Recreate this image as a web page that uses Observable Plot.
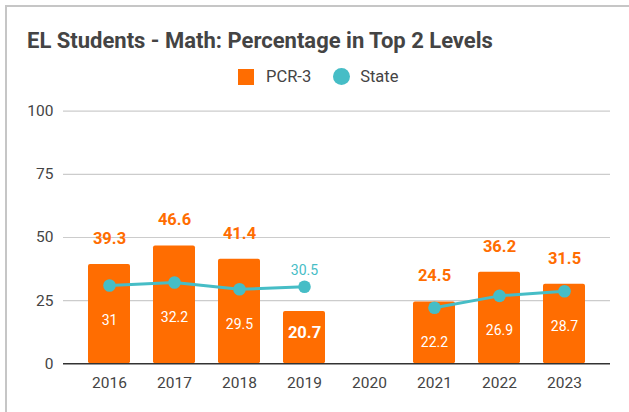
<!DOCTYPE html>
<html>
<head>
<meta charset="utf-8">
<script src="https://cdn.jsdelivr.net/npm/d3@7"></script>
<script src="https://cdn.jsdelivr.net/npm/@observablehq/plot@0.6"></script>
<style>
  html, body { margin: 0; padding: 0; background: #fff; }
  #wrap { position: relative; width: 629px; height: 412px; overflow: hidden; font-family: Roboto, "Noto Sans", sans-serif; }
  #frame { position: absolute; left: 5px; top: 5px; width: 700px; height: 500px; border-top: 2px solid #c6c6c6; border-left: 2px solid #c6c6c6; }
  #title { position: absolute; left: 27px; top: 30px; font-size: 22px; line-height: 22px; font-weight: bold; color: #444; white-space: nowrap; }
  #legend { position: absolute; left: 238px; top: 68px; height: 17px; display: flex; align-items: center; font-size: 16.5px; color: #444; white-space: nowrap; }
  .sw { display: inline-block; width: 16px; height: 16px; margin-right: 12px; }
  .circ { display: inline-block; width: 17px; height: 17px; border-radius: 50%; margin-right: 10px; }
  #chart { position: absolute; left: 0; top: 90px; }
</style>
</head>
<body>
<div id="wrap">
  <div id="frame"></div>
  <div id="title"></div>
  <div id="legend"></div>
  <div id="chart"></div>
</div>
<script>
const titleText = "EL Students - Math: Percentage in Top 2 Levels";
const seriesNames = ["PCR-3", "State"];
const seriesColors = ["#FF6D01", "#46BDC6"];
const years = ["2016", "2017", "2018", "2019", "2020", "2021", "2022", "2023"];
const pcr = [39.3, 46.6, 41.4, 20.7, null, 24.5, 36.2, 31.5];
const state = [31, 32.2, 29.5, 30.5, null, 22.2, 26.9, 28.7];
const yTicks = [0, 25, 50, 75, 100];

document.getElementById("title").textContent = titleText;
const legend = document.getElementById("legend");
legend.innerHTML =
  `<span class="sw" style="background:${seriesColors[0]}"></span><span style="margin-right:22px">${seriesNames[0]}</span>` +
  `<span class="circ" style="background:${seriesColors[1]}"></span><span>${seriesNames[1]}</span>`;

const rows = years.map((y, i) => ({ year: y, pcr: pcr[i], state: state[i] }));
const fmt = v => String(v);

const chart = Plot.plot({
  width: 629,
  height: 322,
  marginLeft: 63,
  marginRight: 19,
  marginTop: 20.7,
  marginBottom: 48.7,
  style: { fontFamily: "Roboto, 'Noto Sans', sans-serif", background: "transparent", overflow: "visible" },
  x: { domain: years, paddingInner: 0.35, paddingOuter: 0.34, label: null },
  y: { domain: [0, 100], label: null },
  marks: [
    Plot.ruleY(yTicks.filter(t => t > 0), { stroke: "#cccccc", strokeWidth: 1.2, strokeOpacity: 1 }),
    Plot.axisX({ tickSize: 0, tickPadding: 13, fontSize: 15.5, fill: "#444", label: null }),
    Plot.axisY({ ticks: yTicks, tickSize: 0, tickPadding: 10, fontSize: 15.5, fill: "#444", label: null }),
    Plot.barY(rows.filter(d => d.pcr != null), { x: "year", y: "pcr", fill: seriesColors[0], rx: 2 }),
    Plot.ruleY([0], { stroke: "#333", strokeWidth: 1.5 }),
    Plot.line(rows, { x: "year", y: "state", stroke: seriesColors[1], strokeWidth: 3 }),
    Plot.dot(rows.filter(d => d.state != null), { x: "year", y: "state", r: 6.3, fill: seriesColors[1], stroke: "none" }),
    // PCR-3 labels: above the bar when it rises above the State point, inside otherwise
    Plot.text(rows.filter(d => d.pcr != null && d.pcr > d.state), { x: "year", y: "pcr", text: d => fmt(d.pcr), dy: -26, fill: seriesColors[0], fontWeight: "bold", fontSize: 16.5 }),
    Plot.text(rows.filter(d => d.pcr != null && d.pcr <= d.state), { x: "year", y: "pcr", text: d => fmt(d.pcr), dy: 21, fill: "white", fontWeight: "bold", fontSize: 16.5 }),
    // State labels: inside the bar below the point, or above the point when it is above the bar
    Plot.text(rows.filter(d => d.state != null && d.state < d.pcr), { x: "year", y: "state", text: d => fmt(d.state), dy: 35, fill: "white", fontSize: 14 }),
    Plot.text(rows.filter(d => d.state != null && d.state >= d.pcr), { x: "year", y: "state", text: d => fmt(d.state), dy: -16, fill: seriesColors[1], fontSize: 14 })
  ]
});
document.getElementById("chart").appendChild(chart);
</script>
</body>
</html>
